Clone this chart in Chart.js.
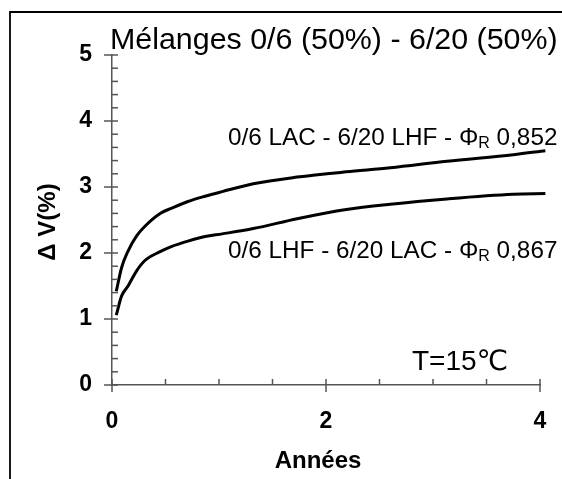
<!DOCTYPE html>
<html>
<head>
<meta charset="utf-8">
<script src="https://cdn.jsdelivr.net/npm/chart.js@4.4.1/dist/chart.umd.min.js"></script>
<style>
html,body{margin:0;padding:0;background:#fff;}
#wrap{width:562px;height:479px;position:relative;}
</style>
</head>
<body>
<div id="wrap"><canvas id="c" width="562" height="479"></canvas></div>
<script>
// Data
const years = [0.04, 0.09, 0.15, 0.23, 0.31, 0.45, 0.56, 0.71, 0.87, 1.03, 1.32, 1.73, 2.19, 2.6, 3.13, 3.75, 4.05];
const lacLhf = [1.42, 1.78, 2.03, 2.26, 2.41, 2.60, 2.68, 2.78, 2.86, 2.93, 3.05, 3.15, 3.23, 3.29, 3.39, 3.49, 3.55];
const lhfLac = [1.06, 1.35, 1.50, 1.73, 1.89, 2.02, 2.10, 2.18, 2.25, 2.29, 2.37, 2.52, 2.66, 2.74, 2.82, 2.89, 2.90];
const xTickLabels = ['0', '2', '4'];
const yTickLabels = ['0', '1', '2', '3', '4', '5'];
const titleText = 'Mélanges 0/6 (50%) - 6/20 (50%)';
const label1 = ['0/6 LAC - 6/20 LHF - ', 'Φ', 'R', ' 0,852'];
const label2 = ['0/6 LHF - 6/20 LAC - ', 'Φ', 'R', ' 0,867'];
const tempText = 'T=15℃';
const xTitle = 'Années';
const yTitle = 'Δ V(%)';

const FONT = "'Liberation Sans', Arial, 'DejaVu Sans', sans-serif";
const AXIS_COLOR = '#555';

function isNear(v, arr) {
  return arr.some(s => Math.abs(v - parseFloat(s)) < 1e-6);
}

const tickPlugin = {
  id: 'ticksAndText',
  afterDraw(chart) {
    const ctx = chart.ctx;
    const xs = chart.scales.x, ys = chart.scales.y;
    ctx.save();
    ctx.strokeStyle = AXIS_COLOR;
    ctx.lineWidth = 1.5;
    const x0 = xs.left, yb = ys.bottom;
    ys.ticks.forEach(t => {
      const p = ys.getPixelForValue(t.value);
      const major = isNear(t.value, yTickLabels);
      ctx.beginPath();
      ctx.moveTo(major ? x0 - 8 : x0, p);
      ctx.lineTo(x0 + 6, p);
      ctx.stroke();
    });
    xs.ticks.forEach(t => {
      const p = xs.getPixelForValue(t.value);
      const major = isNear(t.value, xTickLabels);
      ctx.beginPath();
      ctx.moveTo(p, yb - 6);
      ctx.lineTo(p, major ? yb + 7 : yb);
      ctx.stroke();
    });
    // frame
    ctx.strokeStyle = '#000';
    ctx.lineWidth = 1.8;
    ctx.beginPath();
    ctx.moveTo(10, 479);
    ctx.lineTo(10, 12);
    ctx.lineTo(562, 12);
    ctx.stroke();

    ctx.fillStyle = '#000';
    ctx.textBaseline = 'alphabetic';
    ctx.textAlign = 'left';
    ctx.font = '30.4px ' + FONT;
    ctx.fillText(titleText, 110, 49);
    function drawLabel(parts, x, y) {
      ctx.textAlign = 'left';
      ctx.font = '24.3px ' + FONT;
      ctx.fillText(parts[0], x, y);
      x += ctx.measureText(parts[0]).width;
      ctx.fillText(parts[1], x, y);
      x += ctx.measureText(parts[1]).width;
      ctx.font = '16px ' + FONT;
      ctx.fillText(parts[2], x, y + 3);
      x += ctx.measureText(parts[2]).width;
      ctx.font = '24.3px ' + FONT;
      ctx.fillText(parts[3], x, y);
    }
    drawLabel(label1, 228, 145);
    drawLabel(label2, 228, 258);
    ctx.font = "28px " + FONT + ", 'Noto Sans CJK SC'";
    ctx.fillText(tempText, 412, 370);
    ctx.textAlign = 'center';
    ctx.font = 'bold 24px ' + FONT;
    ctx.fillText(xTitle, 318, 468);
    ctx.save();
    ctx.translate(55, 222);
    ctx.rotate(-Math.PI / 2);
    ctx.font = 'bold 24px ' + FONT;
    ctx.fillText(yTitle, 0, 0);
    ctx.restore();
    ctx.restore();
  }
};

const ds = (vals) => ({
  data: years.map((x, i) => ({x: x, y: vals[i]})),
  borderColor: '#000',
  borderWidth: 3,
  pointRadius: 0,
  tension: 0.4,
  cubicInterpolationMode: 'monotone',
  fill: false,
  clip: false
});

new Chart(document.getElementById('c'), {
  type: 'line',
  data: { datasets: [ds(lacLhf), ds(lhfLac)] },
  options: {
    responsive: false,
    animation: false,
    devicePixelRatio: 1,
    layout: { padding: { left: 0, right: 22, top: 55, bottom: 0 } },
    plugins: { legend: { display: false }, tooltip: { enabled: false }, title: { display: false } },
    scales: {
      x: {
        type: 'linear',
        min: 0, max: 4,
        afterFit(s) { s.height = 94; s.paddingLeft = 0; s.paddingRight = 0; },
        border: { display: true, color: AXIS_COLOR, width: 1.5 },
        grid: { display: true, drawOnChartArea: false, drawTicks: false, color: 'rgba(0,0,0,0)' },
        ticks: {
          stepSize: 0.5,
          autoSkip: false,
          maxRotation: 0,
          padding: 23,
          color: '#000',
          font: { family: FONT, size: 23, weight: 'bold' },
          callback: (v) => isNear(v, xTickLabels) ? String(Math.round(v)) : ''
        }
      },
      y: {
        type: 'linear',
        min: 0, max: 5,
        afterFit(s) { s.width = 112; s.paddingTop = 0; s.paddingBottom = 0; },
        border: { display: true, color: AXIS_COLOR, width: 1.5 },
        grid: { display: true, drawOnChartArea: false, drawTicks: false, color: 'rgba(0,0,0,0)' },
        ticks: {
          stepSize: 0.2,
          autoSkip: false,
          padding: 20,
          color: '#000',
          font: { family: FONT, size: 23, weight: 'bold' },
          callback: (v) => isNear(v, yTickLabels) ? String(Math.round(v)) : ''
        }
      }
    }
  },
  plugins: [tickPlugin]
});
</script>
</body>
</html>
